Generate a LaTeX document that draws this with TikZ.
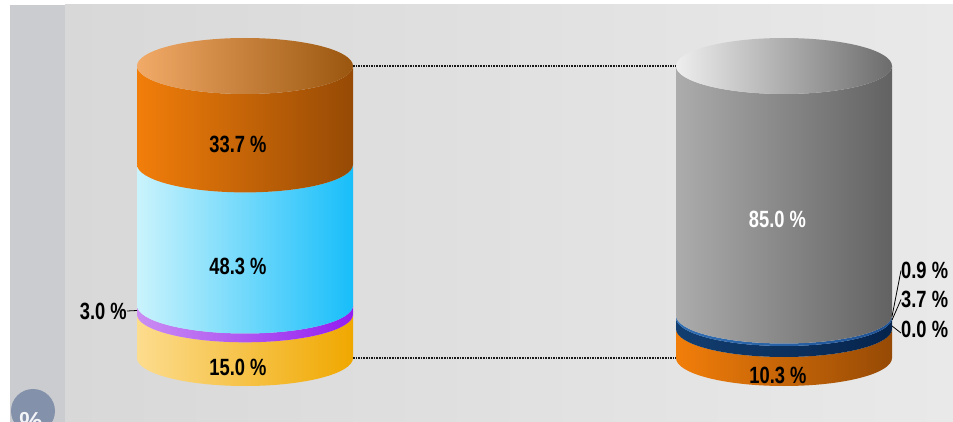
\documentclass[tikz,border=0pt]{standalone}
\usepackage{fontspec}
\newfontfamily\lblfont[FakeStretch=0.78]{Liberation Sans}
\newfontfamily\badgefont{Liberation Sans}
\definecolor{pagebg}{RGB}{255,255,255}
\definecolor{sidepanel}{RGB}{203,204,208}
\definecolor{plotL}{RGB}{216,216,216}
\definecolor{plotR}{RGB}{233,233,233}
\definecolor{badge}{RGB}{131,145,170}
\definecolor{orL}{RGB}{242,126,10}
\definecolor{orR}{RGB}{150,74,5}
\definecolor{ortopL}{RGB}{242,170,104}
\definecolor{ortopR}{RGB}{154,86,14}
\definecolor{cyL}{RGB}{202,243,252}
\definecolor{cyR}{RGB}{24,190,250}
\definecolor{puL}{RGB}{202,142,242}
\definecolor{puR}{RGB}{148,28,240}
\definecolor{yeL}{RGB}{252,220,142}
\definecolor{yeR}{RGB}{240,168,0}
\definecolor{grL}{RGB}{172,172,172}
\definecolor{grR}{RGB}{98,98,98}
\definecolor{grtopL}{RGB}{238,238,238}
\definecolor{grtopR}{RGB}{108,108,108}
\definecolor{nvL}{RGB}{18,62,112}
\definecolor{nvR}{RGB}{6,36,76}
\definecolor{lbL}{RGB}{48,110,180}
\definecolor{lbR}{RGB}{30,82,150}
\definecolor{dotline}{RGB}{25,25,25}

% one slice of a cylinder: centre x, upper rim y, lower rim y, shading colours
\newcommand\cylslice[5]{%
  \path[left color=#4, right color=#5]
    ({#1-108},#2) -- ({#1-108},#3)
    arc[start angle=180, end angle=360, x radius=108pt, y radius=28pt]
    -- ({#1+108},#2)
    arc[start angle=0, end angle=-180, x radius=108pt, y radius=28pt]
    -- cycle;}
\newcommand\cyltop[4]{%
  \path[left color=#3, right color=#4]
    (#1,#2) ellipse[x radius=108pt, y radius=28pt];}

\tikzset{
  x=1pt, y=-1pt,
  pct/.style={font=\lblfont\bfseries\fontsize{23.5}{24}\selectfont, inner sep=0pt, text=black},
  pctw/.style={pct, text=white},
  leader/.style={draw=black, line width=0.8pt},
  guide/.style={draw=dotline, line width=2pt, dash pattern=on 1.6pt off 1pt}
}

\begin{document}
\begin{tikzpicture}
\useasboundingbox (0,0) rectangle (953,422);
\clip (0,0) rectangle (953,422);

% backdrop
\fill[pagebg] (0,0) rectangle (953,422);
\fill[sidepanel] (10,5) rectangle (65,422);
\path[left color=plotL, right color=plotR] (65,5) rectangle (953,422);

% axis badge
\fill[badge] (33,411) circle[radius=22pt];
\node[anchor=north, inner sep=0pt, text=white!90!badge,
      font=\badgefont\bfseries\fontsize{26}{26}\selectfont] (badge) at (31,412) {\%};

% left cylinder
\cylslice{245}{314.3}{358}{yeL}{yeR}
\cylslice{245}{305.5}{314.3}{puL}{puR}
\cylslice{245}{164.4}{305.5}{cyL}{cyR}
\cylslice{245}{66}{164.4}{orL}{orR}
\cyltop{245}{66}{ortopL}{ortopR}

% right cylinder
\cylslice{784}{329}{358}{orL}{orR}
\cylslice{784}{318}{329}{nvL}{nvR}
\cylslice{784}{315.5}{318}{lbL}{lbR}
\cylslice{784}{66}{315.5}{grL}{grR}
\cyltop{784}{66}{grtopL}{grtopR}

% rim points joined by the guide lines
\coordinate (Ltop) at (353,66);
\coordinate (Lbot) at (353,358);
\coordinate (Rtop) at (676,66);
\coordinate (Rbot) at (676,358);
\draw[guide] (Ltop) -- (Rtop);
\draw[guide] (Lbot) -- (Rbot);

% slice values
\node[pct]  (l1) at (238,144.5) {33.7 \%};
\node[pct]  (l2) at (238,266)   {48.3 \%};
\node[pct]  (l4) at (238,367)   {15.0 \%};
\node[pctw] (r1) at (777.5,219.5) {85.0 \%};
\node[pct]  (r5) at (778,375)   {10.3 \%};

% small slices with leaders
\coordinate (l3edge) at (137,310.5);
\node[pct, anchor=east] (l3) at (127,311) {3.0 \%};
\draw[leader] (l3edge) -- (l3.east);

\coordinate (r2edge) at (892,316.5);
\coordinate (r3edge) at (892,320);
\coordinate (r4edge) at (892,326);
\node[pct, anchor=west] (r2) at (901,270.5) {0.9 \%};
\node[pct, anchor=west] (r3) at (901,299.5) {3.7 \%};
\node[pct, anchor=west] (r4) at (901,329.5) {0.0 \%};
\draw[leader] (r2edge) -- (r2.west);
\draw[leader] (r3edge) -- (r3.west);
\draw[leader] (r4edge) -- ([yshift=-3.5pt]r4.west);
\end{tikzpicture}
\end{document}
